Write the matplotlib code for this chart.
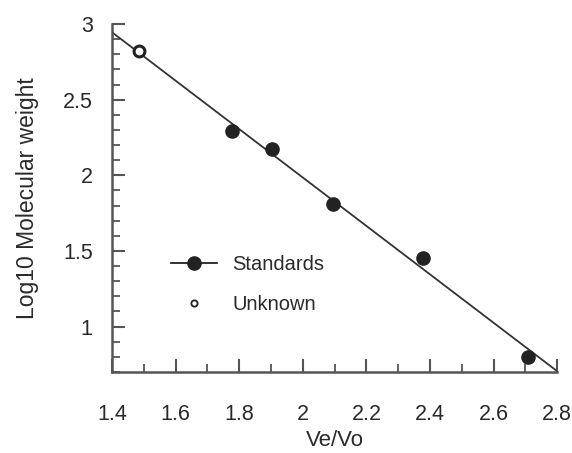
"""Log10 molecular weight vs Ve/Vo calibration plot."""

import matplotlib.pyplot as plt
from matplotlib.lines import Line2D
from matplotlib.ticker import MultipleLocator

plt.rcParams["font.family"] = ["Liberation Sans", "DejaVu Sans"]

# standards
std_x = [1.776, 1.904, 2.095, 2.379, 2.709]
std_y = [2.293, 2.173, 1.813, 1.455, 0.798]

# unknown sample
unk_x = [1.485]
unk_y = [2.82]

# fitted line end points
fit_x = [1.4, 2.8]
fit_y = [2.945, 0.705]


def main() -> None:
    fig = plt.figure(figsize=(5.72, 4.53), dpi=100)
    ax = fig.add_axes([0.196, 0.179, 0.778, 0.768])

    ink = "#222222"
    ax.plot(fit_x, fit_y, color="#333333", linewidth=1.3, zorder=2)
    ax.plot(std_x, std_y, "o", color=ink, markersize=9.5, zorder=3)
    ax.plot(unk_x, unk_y, "o", markerfacecolor="white", markeredgecolor=ink,
            markeredgewidth=2.2, markersize=7.8, zorder=4)

    ax.set_xlim(1.4, 2.8)
    ax.set_ylim(0.7, 3.0)
    ax.xaxis.set_minor_locator(MultipleLocator(0.1))
    ax.yaxis.set_minor_locator(MultipleLocator(0.1))
    ax.set_xticks([1.4, 1.6, 1.8, 2.0, 2.2, 2.4, 2.6, 2.8])
    ax.set_xticklabels(["1.4", "1.6", "1.8", "2", "2.2", "2.4", "2.6", "2.8"])
    ax.set_yticks([1, 1.5, 2, 2.5, 3])
    ax.set_yticklabels(["1", "1.5", "2", "2.5", "3"])

    for side in ("top", "right"):
        ax.spines[side].set_visible(False)
    for side in ("left", "bottom"):
        ax.spines[side].set_color("#555555")
        ax.spines[side].set_linewidth(1.8)

    ax.tick_params(which="both", direction="in", colors="#555555",
                   labelcolor="#2a2a2a", labelsize=15.5)
    ax.tick_params(which="major", length=9.5, width=1.5)
    ax.tick_params(which="minor", length=6, width=1.3)
    ax.tick_params(axis="x", which="major", pad=23)
    ax.tick_params(axis="y", which="major", pad=14)

    ax.set_xlabel("Ve/Vo", fontsize=16, color="#2a2a2a", labelpad=4)
    ax.set_ylabel("Log10 Molecular weight", fontsize=16.5, color="#2a2a2a",
                  labelpad=17)

    handles = [
        Line2D([], [], color=ink, marker="o", markersize=9.5, linewidth=1.3),
        Line2D([], [], color=ink, marker="o", markerfacecolor="white",
               markeredgewidth=1.3, markersize=4.5, linestyle="none"),
    ]
    ax.legend(handles, ["Standards", "Unknown"], frameon=False,
              loc="center left", bbox_to_anchor=(0.11, 0.252), borderpad=0,
              fontsize=14.5, labelcolor="#2a2a2a", handlelength=2.3,
              labelspacing=1.05, handletextpad=0.75)

    fig.savefig("out.png")


if __name__ == "__main__":
    main()
